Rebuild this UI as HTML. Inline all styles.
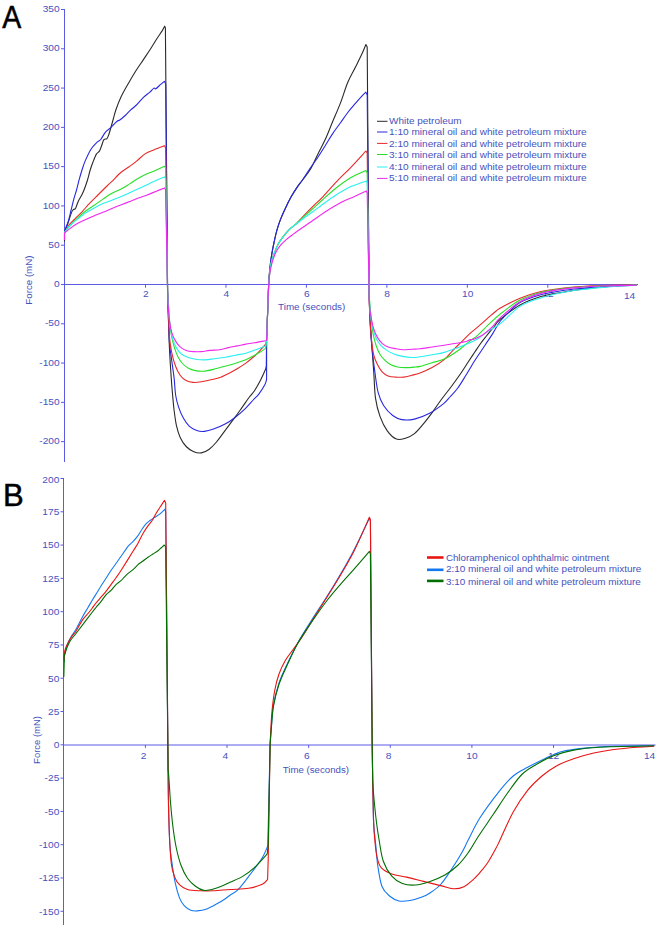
<!DOCTYPE html>
<html><head><meta charset="utf-8"><style>
html,body{margin:0;padding:0;background:#fff;width:660px;height:928px;overflow:hidden}
svg{display:block}
.t{font-family:"Liberation Sans",sans-serif;font-size:9.2px;fill:#4652bc}
.big{font-family:"Liberation Sans",sans-serif;font-size:31px;fill:#000;stroke:#000;stroke-width:0.5px}
.curves path{fill:none;stroke-width:1.1;stroke-linejoin:round}

</style></head><body>
<svg width="660" height="928" viewBox="0 0 660 928">
<text transform="translate(2.2,27.6) scale(0.92,1)" class="big">A</text>
<text x="2.9" y="505.7" class="big">B</text>
<line x1="64.5" y1="9" x2="64.5" y2="462" stroke="#5a5ae6"/>
<line x1="64" y1="284.5" x2="638" y2="284.5" stroke="#5a5ae6"/>
<line x1="61" y1="9.50" x2="64" y2="9.50" stroke="#5a5ae6"/>
<text transform="translate(59.60,12.10) scale(1.060,1)" text-anchor="end" class="t" style="font-size:9.6px">350</text>
<line x1="61" y1="48.79" x2="64" y2="48.79" stroke="#5a5ae6"/>
<text transform="translate(59.60,51.39) scale(1.060,1)" text-anchor="end" class="t" style="font-size:9.6px">300</text>
<line x1="61" y1="88.07" x2="64" y2="88.07" stroke="#5a5ae6"/>
<text transform="translate(59.60,90.67) scale(1.060,1)" text-anchor="end" class="t" style="font-size:9.6px">250</text>
<line x1="61" y1="127.36" x2="64" y2="127.36" stroke="#5a5ae6"/>
<text transform="translate(59.60,129.96) scale(1.060,1)" text-anchor="end" class="t" style="font-size:9.6px">200</text>
<line x1="61" y1="166.64" x2="64" y2="166.64" stroke="#5a5ae6"/>
<text transform="translate(59.60,169.24) scale(1.060,1)" text-anchor="end" class="t" style="font-size:9.6px">150</text>
<line x1="61" y1="205.93" x2="64" y2="205.93" stroke="#5a5ae6"/>
<text transform="translate(59.60,208.53) scale(1.060,1)" text-anchor="end" class="t" style="font-size:9.6px">100</text>
<line x1="61" y1="245.21" x2="64" y2="245.21" stroke="#5a5ae6"/>
<text transform="translate(59.60,247.81) scale(1.060,1)" text-anchor="end" class="t" style="font-size:9.6px">50</text>
<line x1="61" y1="284.50" x2="64" y2="284.50" stroke="#5a5ae6"/>
<text transform="translate(59.60,287.10) scale(1.060,1)" text-anchor="end" class="t" style="font-size:9.6px">0</text>
<line x1="61" y1="323.79" x2="64" y2="323.79" stroke="#5a5ae6"/>
<text transform="translate(59.60,326.39) scale(1.060,1)" text-anchor="end" class="t" style="font-size:9.6px">-50</text>
<line x1="61" y1="363.07" x2="64" y2="363.07" stroke="#5a5ae6"/>
<text transform="translate(59.60,365.67) scale(1.060,1)" text-anchor="end" class="t" style="font-size:9.6px">-100</text>
<line x1="61" y1="402.36" x2="64" y2="402.36" stroke="#5a5ae6"/>
<text transform="translate(59.60,404.96) scale(1.060,1)" text-anchor="end" class="t" style="font-size:9.6px">-150</text>
<line x1="61" y1="441.64" x2="64" y2="441.64" stroke="#5a5ae6"/>
<text transform="translate(59.60,444.24) scale(1.060,1)" text-anchor="end" class="t" style="font-size:9.6px">-200</text>
<line x1="145.50" y1="284.5" x2="145.50" y2="287.7" stroke="#5a5ae6"/>
<text transform="translate(145.80,297.10) scale(1.060,1)" text-anchor="middle" class="t" style="font-size:9.6px">2</text>
<line x1="225.96" y1="284.5" x2="225.96" y2="287.7" stroke="#5a5ae6"/>
<text transform="translate(226.26,297.10) scale(1.060,1)" text-anchor="middle" class="t" style="font-size:9.6px">4</text>
<line x1="306.42" y1="284.5" x2="306.42" y2="287.7" stroke="#5a5ae6"/>
<text transform="translate(306.72,297.10) scale(1.060,1)" text-anchor="middle" class="t" style="font-size:9.6px">6</text>
<line x1="386.88" y1="284.5" x2="386.88" y2="287.7" stroke="#5a5ae6"/>
<text transform="translate(387.18,297.10) scale(1.060,1)" text-anchor="middle" class="t" style="font-size:9.6px">8</text>
<line x1="467.34" y1="284.5" x2="467.34" y2="287.7" stroke="#5a5ae6"/>
<text transform="translate(467.64,297.10) scale(1.060,1)" text-anchor="middle" class="t" style="font-size:9.6px">10</text>
<line x1="547.80" y1="284.5" x2="547.80" y2="287.7" stroke="#5a5ae6"/>
<text transform="translate(548.10,297.10) scale(1.060,1)" text-anchor="middle" class="t" style="font-size:9.6px">12</text>
<text transform="translate(635.20,299.00) scale(1.060,1)" text-anchor="end" class="t" style="font-size:9.6px">14</text>
<line x1="63.5" y1="478" x2="63.5" y2="925" stroke="#5a5ae6"/>
<line x1="63" y1="745" x2="655.5" y2="745" stroke="#5a5ae6"/>
<line x1="60.5" y1="478.50" x2="63" y2="478.50" stroke="#5a5ae6"/>
<text transform="translate(59.30,483.30) scale(1.060,1)" text-anchor="end" class="t" style="font-size:9.6px">200</text>
<line x1="60.5" y1="511.79" x2="63" y2="511.79" stroke="#5a5ae6"/>
<text transform="translate(59.30,515.09) scale(1.060,1)" text-anchor="end" class="t" style="font-size:9.6px">175</text>
<line x1="60.5" y1="545.08" x2="63" y2="545.08" stroke="#5a5ae6"/>
<text transform="translate(59.30,548.38) scale(1.060,1)" text-anchor="end" class="t" style="font-size:9.6px">150</text>
<line x1="60.5" y1="578.37" x2="63" y2="578.37" stroke="#5a5ae6"/>
<text transform="translate(59.30,581.67) scale(1.060,1)" text-anchor="end" class="t" style="font-size:9.6px">125</text>
<line x1="60.5" y1="611.66" x2="63" y2="611.66" stroke="#5a5ae6"/>
<text transform="translate(59.30,614.96) scale(1.060,1)" text-anchor="end" class="t" style="font-size:9.6px">100</text>
<line x1="60.5" y1="644.95" x2="63" y2="644.95" stroke="#5a5ae6"/>
<text transform="translate(59.30,648.25) scale(1.060,1)" text-anchor="end" class="t" style="font-size:9.6px">75</text>
<line x1="60.5" y1="678.24" x2="63" y2="678.24" stroke="#5a5ae6"/>
<text transform="translate(59.30,681.54) scale(1.060,1)" text-anchor="end" class="t" style="font-size:9.6px">50</text>
<line x1="60.5" y1="711.53" x2="63" y2="711.53" stroke="#5a5ae6"/>
<text transform="translate(59.30,714.83) scale(1.060,1)" text-anchor="end" class="t" style="font-size:9.6px">25</text>
<line x1="60.5" y1="744.82" x2="63" y2="744.82" stroke="#5a5ae6"/>
<text transform="translate(59.30,748.12) scale(1.060,1)" text-anchor="end" class="t" style="font-size:9.6px">0</text>
<line x1="60.5" y1="778.11" x2="63" y2="778.11" stroke="#5a5ae6"/>
<text transform="translate(59.30,781.41) scale(1.060,1)" text-anchor="end" class="t" style="font-size:9.6px">-25</text>
<line x1="60.5" y1="811.40" x2="63" y2="811.40" stroke="#5a5ae6"/>
<text transform="translate(59.30,814.70) scale(1.060,1)" text-anchor="end" class="t" style="font-size:9.6px">-50</text>
<line x1="60.5" y1="844.69" x2="63" y2="844.69" stroke="#5a5ae6"/>
<text transform="translate(59.30,847.99) scale(1.060,1)" text-anchor="end" class="t" style="font-size:9.6px">-100</text>
<line x1="60.5" y1="877.98" x2="63" y2="877.98" stroke="#5a5ae6"/>
<text transform="translate(59.30,881.28) scale(1.060,1)" text-anchor="end" class="t" style="font-size:9.6px">-125</text>
<line x1="60.5" y1="911.27" x2="63" y2="911.27" stroke="#5a5ae6"/>
<text transform="translate(59.30,914.57) scale(1.060,1)" text-anchor="end" class="t" style="font-size:9.6px">-150</text>
<line x1="145.42" y1="745" x2="145.42" y2="747.9" stroke="#5a5ae6"/>
<text transform="translate(143.62,758.70) scale(1.060,1)" text-anchor="middle" class="t" style="font-size:9.6px">2</text>
<line x1="227.04" y1="745" x2="227.04" y2="747.9" stroke="#5a5ae6"/>
<text transform="translate(225.24,758.70) scale(1.060,1)" text-anchor="middle" class="t" style="font-size:9.6px">4</text>
<line x1="308.66" y1="745" x2="308.66" y2="747.9" stroke="#5a5ae6"/>
<text transform="translate(306.86,758.70) scale(1.060,1)" text-anchor="middle" class="t" style="font-size:9.6px">6</text>
<line x1="390.28" y1="745" x2="390.28" y2="747.9" stroke="#5a5ae6"/>
<text transform="translate(388.48,758.70) scale(1.060,1)" text-anchor="middle" class="t" style="font-size:9.6px">8</text>
<line x1="471.90" y1="745" x2="471.90" y2="747.9" stroke="#5a5ae6"/>
<text transform="translate(471.90,758.70) scale(1.060,1)" text-anchor="middle" class="t" style="font-size:9.6px">10</text>
<line x1="553.52" y1="745" x2="553.52" y2="747.9" stroke="#5a5ae6"/>
<text transform="translate(553.52,758.70) scale(1.060,1)" text-anchor="middle" class="t" style="font-size:9.6px">12</text>
<text transform="translate(655.20,759.00) scale(1.060,1)" text-anchor="end" class="t" style="font-size:9.6px">14</text>
<text x="0.0" y="0.0" text-anchor="middle" textLength="49.2" lengthAdjust="spacingAndGlyphs" class="t" transform="translate(32.4,280.1) rotate(-90)">Force (mN)</text>
<text x="0.0" y="0.0" text-anchor="middle" textLength="47.8" lengthAdjust="spacingAndGlyphs" class="t" transform="translate(40.2,740) rotate(-90)">Force (mN)</text>
<text x="278.1" y="310.1" textLength="67.2" lengthAdjust="spacingAndGlyphs" class="t">Time (seconds)</text>
<text x="282.7" y="772.8" textLength="66.3" lengthAdjust="spacingAndGlyphs" class="t">Time (seconds)</text>
<g class="curves">
<path d="M64.50,241.50L64.50,234.00C64.67,233.17 65.00,230.58 65.50,229.00C66.00,227.42 66.57,227.07 67.50,224.50C68.43,221.93 70.20,216.02 71.10,213.60C72.00,211.18 72.15,210.90 72.90,210.00C73.65,209.10 74.68,209.72 75.60,208.20C76.52,206.68 77.33,203.18 78.40,200.90C79.47,198.62 80.95,196.62 82.00,194.50C83.05,192.38 83.78,190.62 84.70,188.20C85.62,185.78 86.58,183.03 87.50,180.00C88.42,176.97 89.28,173.00 90.20,170.00C91.12,167.00 91.97,164.65 93.00,162.00C94.03,159.35 95.33,155.92 96.40,154.10C97.47,152.28 98.55,152.45 99.40,151.10C100.25,149.75 100.75,147.90 101.50,146.00C102.25,144.10 102.98,140.93 103.90,139.70C104.82,138.47 106.15,139.55 107.00,138.60C107.85,137.65 108.30,136.02 109.00,134.00C109.70,131.98 110.43,129.18 111.20,126.50C111.97,123.82 112.78,120.78 113.60,117.90C114.42,115.02 114.85,112.72 116.10,109.20C117.35,105.68 119.03,101.13 121.10,96.80C123.17,92.47 126.03,87.53 128.50,83.20C130.97,78.87 133.42,74.73 135.90,70.80C138.38,66.87 140.92,63.32 143.40,59.60C145.88,55.88 148.53,52.02 150.80,48.50C153.07,44.98 155.13,41.40 157.00,38.50C158.87,35.60 160.72,33.15 162.00,31.10C163.28,29.05 164.25,27.02 164.70,26.20L165.40,28.00L167.60,292.00C167.72,295.83 167.98,305.47 168.30,315.00C168.62,324.53 169.00,338.55 169.50,349.20C170.00,359.85 170.78,371.27 171.30,378.90C171.82,386.53 172.13,389.78 172.60,395.00C173.07,400.22 173.47,405.15 174.10,410.20C174.73,415.25 175.38,420.77 176.40,425.30C177.42,429.83 178.57,433.87 180.20,437.40C181.83,440.93 183.93,444.10 186.20,446.50C188.47,448.90 191.27,450.73 193.80,451.80C196.33,452.87 198.88,453.28 201.40,452.90C203.92,452.52 206.38,451.32 208.90,449.50C211.42,447.68 213.72,445.28 216.50,442.00C219.28,438.72 222.57,433.85 225.60,429.80C228.63,425.75 231.92,421.48 234.70,417.70C237.48,413.92 239.78,410.63 242.30,407.10C244.82,403.57 247.77,399.23 249.80,396.50C251.83,393.77 252.72,393.40 254.50,390.70C256.28,388.00 258.63,383.90 260.50,380.30C262.37,376.70 264.83,370.97 265.70,369.10L266.30,366.00L266.60,340.00L268.60,286.00C268.72,284.13 268.98,278.63 269.30,274.80C269.62,270.97 270.00,266.95 270.50,263.00C271.00,259.05 271.60,255.05 272.30,251.10C273.00,247.15 273.92,242.85 274.70,239.30C275.48,235.75 276.02,233.17 277.00,229.80C277.98,226.43 279.22,222.67 280.60,219.10C281.98,215.53 283.52,212.15 285.30,208.40C287.08,204.65 289.32,200.15 291.30,196.60C293.28,193.05 295.33,189.87 297.20,187.10C299.07,184.33 300.35,182.88 302.50,180.00C304.65,177.12 307.58,174.02 310.10,169.80C312.62,165.58 315.08,159.73 317.60,154.70C320.12,149.67 322.68,145.13 325.20,139.60C327.72,134.07 330.18,127.53 332.70,121.50C335.22,115.47 337.78,109.93 340.30,103.40C342.82,96.87 345.28,88.33 347.80,82.30C350.32,76.27 353.13,71.73 355.40,67.20C357.67,62.67 359.65,58.88 361.40,55.10C363.15,51.32 365.15,46.27 365.90,44.50L367.20,47.00L369.10,292.00C369.23,295.83 369.40,305.47 369.90,315.00C370.40,324.53 371.45,339.55 372.10,349.20C372.75,358.85 373.23,364.73 373.80,372.90C374.37,381.07 374.47,390.95 375.50,398.20C376.53,405.45 378.03,410.95 380.00,416.40C381.97,421.85 384.57,427.12 387.30,430.90C390.03,434.68 393.37,437.88 396.40,439.10C399.43,440.32 402.48,439.12 405.50,438.20C408.52,437.28 411.48,436.03 414.50,433.60C417.52,431.17 420.57,427.23 423.60,423.60C426.63,419.97 429.80,415.73 432.70,411.80C435.60,407.87 437.95,404.13 441.00,400.00C444.05,395.87 447.83,391.25 451.00,387.00C454.17,382.75 457.08,378.75 460.00,374.50C462.92,370.25 466.08,365.17 468.50,361.50C470.92,357.83 472.48,355.50 474.50,352.50C476.52,349.50 478.68,346.17 480.60,343.50C482.52,340.83 484.38,338.55 486.00,336.50C487.62,334.45 488.80,333.03 490.30,331.20C491.80,329.37 493.38,327.45 495.00,325.50C496.62,323.55 495.83,322.92 500.00,319.50C504.17,316.08 513.33,308.78 520.00,305.00C526.67,301.22 533.33,298.85 540.00,296.80C546.67,294.75 553.33,293.92 560.00,292.70C566.67,291.48 573.33,290.42 580.00,289.50C586.67,288.58 593.33,287.82 600.00,287.20C606.67,286.58 613.83,286.13 620.00,285.80C626.17,285.47 634.17,285.30 637.00,285.20" stroke="#2a2a2a"/>
<path d="M64.40,232.50C64.57,231.92 64.73,230.93 65.40,229.00C66.07,227.07 67.45,224.07 68.40,220.90C69.35,217.73 70.20,213.63 71.10,210.00C72.00,206.37 72.90,202.43 73.80,199.10C74.70,195.77 75.58,193.33 76.50,190.00C77.42,186.67 78.38,182.43 79.30,179.10C80.22,175.77 81.02,173.03 82.00,170.00C82.98,166.97 83.70,164.37 85.20,160.90C86.70,157.43 89.05,152.28 91.00,149.20C92.95,146.12 95.28,144.02 96.90,142.40C98.52,140.78 99.27,141.22 100.70,139.50C102.13,137.78 103.82,134.08 105.50,132.10C107.18,130.12 108.92,129.37 110.80,127.60C112.68,125.83 115.30,122.77 116.80,121.50C118.30,120.23 118.40,121.00 119.80,120.00C121.20,119.00 123.42,117.13 125.20,115.50C126.98,113.87 128.72,111.87 130.50,110.20C132.28,108.53 133.75,107.63 135.90,105.50C138.05,103.37 141.12,99.58 143.40,97.40C145.68,95.22 147.85,93.95 149.60,92.40C151.35,90.85 152.87,88.72 153.90,88.10C154.93,87.48 154.67,89.32 155.80,88.70C156.93,88.08 159.27,85.63 160.70,84.40C162.13,83.17 163.78,81.82 164.40,81.30L165.70,84.00L167.60,292.00C167.75,296.67 168.18,311.45 168.50,320.00C168.82,328.55 168.95,336.45 169.50,343.30C170.05,350.15 171.02,355.17 171.80,361.10C172.58,367.03 173.57,373.25 174.20,378.90C174.83,384.55 174.87,390.30 175.60,395.00C176.33,399.70 177.33,403.32 178.60,407.10C179.87,410.88 181.43,414.53 183.20,417.70C184.97,420.87 186.93,423.95 189.20,426.10C191.47,428.25 194.27,429.72 196.80,430.60C199.33,431.48 201.62,431.65 204.40,431.40C207.18,431.15 209.97,430.37 213.50,429.10C217.03,427.83 222.07,425.70 225.60,423.80C229.13,421.90 231.42,420.23 234.70,417.70C237.98,415.17 242.22,411.55 245.30,408.60C248.38,405.65 250.95,402.42 253.20,400.00C255.45,397.58 256.87,396.65 258.80,394.10C260.73,391.55 263.50,387.13 264.80,384.70C266.10,382.27 266.30,380.37 266.60,379.50L266.60,340.00L268.60,286.00C268.72,284.13 268.98,278.63 269.30,274.80C269.62,270.97 270.00,266.95 270.50,263.00C271.00,259.05 271.60,255.05 272.30,251.10C273.00,247.15 273.92,242.85 274.70,239.30C275.48,235.75 276.02,233.17 277.00,229.80C277.98,226.43 279.22,222.67 280.60,219.10C281.98,215.53 283.52,212.15 285.30,208.40C287.08,204.65 289.32,200.15 291.30,196.60C293.28,193.05 295.33,189.87 297.20,187.10C299.07,184.33 300.35,183.13 302.50,180.00C304.65,176.87 307.58,172.02 310.10,168.30C312.62,164.58 315.08,161.47 317.60,157.70C320.12,153.93 322.68,149.72 325.20,145.70C327.72,141.68 330.18,137.38 332.70,133.60C335.22,129.82 337.78,126.52 340.30,123.00C342.82,119.48 345.28,115.77 347.80,112.50C350.32,109.23 353.13,106.05 355.40,103.40C357.67,100.75 359.65,98.48 361.40,96.60C363.15,94.72 365.15,92.85 365.90,92.10L367.20,95.00L369.10,292.00C369.25,296.67 369.60,311.45 370.00,320.00C370.40,328.55 370.67,334.48 371.50,343.30C372.33,352.12 373.88,364.67 375.00,372.90C376.12,381.13 376.77,387.27 378.20,392.70C379.63,398.13 381.18,401.70 383.60,405.50C386.02,409.30 389.67,413.15 392.70,415.50C395.73,417.85 398.17,419.00 401.80,419.60C405.43,420.20 409.95,420.10 414.50,419.10C419.05,418.10 424.25,416.18 429.10,413.60C433.95,411.02 440.12,406.37 443.60,403.60C447.08,400.83 447.67,399.55 450.00,397.00C452.33,394.45 454.95,391.92 457.60,388.30C460.25,384.68 463.08,379.85 465.90,375.30C468.72,370.75 472.23,364.63 474.50,361.00C476.77,357.37 477.67,356.25 479.50,353.50C481.33,350.75 483.30,347.82 485.50,344.50C487.70,341.18 490.28,337.43 492.70,333.60C495.12,329.77 497.12,325.27 500.00,321.50C502.88,317.73 506.67,314.17 510.00,311.00C513.33,307.83 515.00,305.17 520.00,302.50C525.00,299.83 533.33,296.92 540.00,295.00C546.67,293.08 553.33,292.08 560.00,291.00C566.67,289.92 573.33,289.17 580.00,288.50C586.67,287.83 593.33,287.47 600.00,287.00C606.67,286.53 613.83,286.00 620.00,285.70C626.17,285.40 634.17,285.28 637.00,285.20" stroke="#2828e0"/>
<path d="M64.40,232.50C64.67,232.12 65.18,231.53 66.00,230.20C66.82,228.87 67.85,226.35 69.30,224.50C70.75,222.65 72.58,221.22 74.70,219.10C76.82,216.98 79.57,214.38 82.00,211.80C84.43,209.22 86.57,206.48 89.30,203.60C92.03,200.72 95.37,197.52 98.40,194.50C101.43,191.48 105.23,187.70 107.50,185.50C109.77,183.30 109.78,183.47 112.00,181.30C114.22,179.13 117.87,174.98 120.80,172.50C123.73,170.02 126.97,168.30 129.60,166.40C132.23,164.50 133.97,163.23 136.60,161.10C139.23,158.97 142.47,155.50 145.40,153.60C148.33,151.70 150.98,151.02 154.20,149.70C157.42,148.38 162.95,146.37 164.70,145.70L165.60,148.00L167.60,292.00C167.72,294.63 167.98,300.23 168.30,307.80C168.62,315.37 168.92,329.90 169.50,337.40C170.08,344.90 170.82,348.07 171.80,352.80C172.78,357.53 174.02,362.05 175.40,365.80C176.78,369.55 178.32,372.83 180.10,375.30C181.88,377.77 183.92,379.42 186.10,380.60C188.28,381.78 190.63,382.20 193.20,382.40C195.77,382.60 198.73,382.20 201.50,381.80C204.27,381.40 206.85,380.68 209.80,380.00C212.75,379.32 216.07,378.80 219.20,377.70C222.33,376.60 225.60,374.90 228.60,373.40C231.60,371.90 234.32,370.42 237.20,368.70C240.08,366.98 243.30,364.97 245.90,363.10C248.50,361.23 250.65,359.37 252.80,357.50C254.95,355.63 256.65,354.13 258.80,351.90C260.95,349.67 264.55,345.40 265.70,344.10L266.60,340.00L268.60,286.00C268.82,283.55 269.38,275.53 269.90,271.30C270.42,267.07 270.90,263.77 271.70,260.60C272.50,257.43 273.62,255.07 274.70,252.30C275.78,249.53 276.82,246.57 278.20,244.00C279.58,241.43 281.22,239.27 283.00,236.90C284.78,234.53 286.73,231.97 288.90,229.80C291.07,227.63 293.23,226.57 296.00,223.90C298.77,221.23 302.53,216.87 305.50,213.80C308.47,210.73 311.08,208.17 313.80,205.50C316.52,202.83 318.03,201.75 321.80,197.80C325.57,193.85 331.55,186.88 336.40,181.80C341.25,176.72 345.98,172.43 350.90,167.30C355.82,162.17 363.40,153.72 365.90,151.00L367.20,153.00L369.10,292.00C369.20,295.62 369.30,305.73 369.70,313.70C370.10,321.67 370.82,332.88 371.50,339.80C372.18,346.72 372.82,351.07 373.80,355.20C374.78,359.33 376.02,361.83 377.40,364.60C378.78,367.37 380.32,369.92 382.10,371.80C383.88,373.68 385.92,375.02 388.10,375.90C390.28,376.78 392.63,376.90 395.20,377.10C397.77,377.30 400.73,377.40 403.50,377.10C406.27,376.80 409.05,375.98 411.80,375.30C414.55,374.62 416.62,374.28 420.00,373.00C423.38,371.72 428.07,369.82 432.10,367.60C436.13,365.38 440.77,362.53 444.20,359.70C447.63,356.87 449.87,353.53 452.70,350.60C455.53,347.67 458.57,344.73 461.20,342.10C463.83,339.47 465.87,337.22 468.50,334.80C471.13,332.38 473.97,330.22 477.00,327.60C480.03,324.98 483.67,321.73 486.70,319.10C489.73,316.47 492.98,313.62 495.20,311.80C497.42,309.98 495.87,310.47 500.00,308.20C504.13,305.93 513.33,300.93 520.00,298.20C526.67,295.47 533.33,293.42 540.00,291.80C546.67,290.18 553.33,289.37 560.00,288.50C566.67,287.63 573.33,287.10 580.00,286.60C586.67,286.10 590.50,285.77 600.00,285.50C609.50,285.23 630.83,285.08 637.00,285.00" stroke="#e82828"/>
<path d="M64.40,232.50C64.67,232.13 64.88,231.63 66.00,230.30C67.12,228.97 69.18,226.52 71.10,224.50C73.02,222.48 75.23,220.32 77.50,218.20C79.77,216.08 81.98,213.92 84.70,211.80C87.42,209.68 90.77,207.62 93.80,205.50C96.83,203.38 99.87,201.15 102.90,199.10C105.93,197.05 109.02,194.85 112.00,193.20C114.98,191.55 117.87,190.75 120.80,189.20C123.73,187.65 126.67,185.73 129.60,183.90C132.53,182.07 135.48,179.88 138.40,178.20C141.32,176.52 144.18,175.12 147.10,173.80C150.02,172.48 153.00,171.57 155.90,170.30C158.80,169.03 163.07,166.88 164.50,166.20L165.60,168.00L167.60,292.00C167.75,294.17 168.18,300.20 168.50,305.00C168.82,309.80 169.03,315.80 169.50,320.80C169.97,325.80 170.52,330.65 171.30,335.00C172.08,339.35 173.12,343.33 174.20,346.90C175.28,350.47 176.42,353.63 177.80,356.40C179.18,359.17 180.73,361.53 182.50,363.50C184.27,365.47 186.23,367.02 188.40,368.20C190.57,369.38 192.93,370.10 195.50,370.60C198.07,371.10 200.83,371.40 203.80,371.20C206.77,371.00 210.33,370.10 213.30,369.40C216.27,368.70 219.05,367.68 221.60,367.00C224.15,366.32 226.00,366.02 228.60,365.30C231.20,364.58 234.32,363.63 237.20,362.70C240.08,361.77 243.30,360.78 245.90,359.70C248.50,358.62 250.50,357.43 252.80,356.20C255.10,354.97 257.55,353.60 259.70,352.30C261.85,351.00 264.70,349.05 265.70,348.40L266.60,340.00L268.60,286.00C268.82,283.55 269.38,275.53 269.90,271.30C270.42,267.07 270.90,263.77 271.70,260.60C272.50,257.43 273.62,255.07 274.70,252.30C275.78,249.53 276.82,246.57 278.20,244.00C279.58,241.43 281.22,239.27 283.00,236.90C284.78,234.53 286.73,231.97 288.90,229.80C291.07,227.63 293.23,226.33 296.00,223.90C298.77,221.47 302.53,217.88 305.50,215.20C308.47,212.52 311.08,210.25 313.80,207.80C316.52,205.35 318.03,203.83 321.80,200.50C325.57,197.17 331.55,191.63 336.40,187.80C341.25,183.97 345.98,180.40 350.90,177.50C355.82,174.60 363.40,171.58 365.90,170.40L367.20,173.00L369.10,292.00C369.23,294.17 369.50,300.20 369.90,305.00C370.30,309.80 370.93,315.80 371.50,320.80C372.07,325.80 372.52,330.85 373.30,335.00C374.08,339.15 375.12,342.53 376.20,345.70C377.28,348.87 378.42,351.63 379.80,354.00C381.18,356.37 382.73,358.13 384.50,359.90C386.27,361.67 388.23,363.42 390.40,364.60C392.57,365.78 394.93,366.50 397.50,367.00C400.07,367.50 402.83,367.60 405.80,367.60C408.77,367.60 412.93,367.20 415.30,367.00C417.67,366.80 417.20,367.12 420.00,366.40C422.80,365.68 428.07,363.92 432.10,362.70C436.13,361.48 440.15,360.92 444.20,359.10C448.25,357.28 452.35,354.63 456.40,351.80C460.45,348.97 464.87,344.93 468.50,342.10C472.13,339.27 474.97,337.62 478.20,334.80C481.43,331.98 484.27,328.63 487.90,325.20C491.53,321.77 494.65,318.40 500.00,314.20C505.35,310.00 513.33,303.58 520.00,300.00C526.67,296.42 533.33,294.53 540.00,292.70C546.67,290.87 553.33,289.95 560.00,289.00C566.67,288.05 573.33,287.55 580.00,287.00C586.67,286.45 590.50,286.02 600.00,285.70C609.50,285.38 630.83,285.20 637.00,285.10" stroke="#28e028"/>
<path d="M64.40,232.50C64.67,232.13 64.88,231.63 66.00,230.30C67.12,228.97 69.18,226.37 71.10,224.50C73.02,222.63 75.23,220.92 77.50,219.10C79.77,217.28 81.98,215.42 84.70,213.60C87.42,211.78 90.77,209.87 93.80,208.20C96.83,206.53 99.87,204.93 102.90,203.60C105.93,202.27 109.02,201.35 112.00,200.20C114.98,199.05 117.87,197.95 120.80,196.70C123.73,195.45 126.67,194.02 129.60,192.70C132.53,191.38 135.48,190.12 138.40,188.80C141.32,187.48 144.18,186.20 147.10,184.80C150.02,183.40 153.00,181.72 155.90,180.40C158.80,179.08 163.07,177.48 164.50,176.90L165.60,179.00L167.60,292.00C167.82,295.62 168.38,307.52 168.90,313.70C169.42,319.88 170.02,324.75 170.70,329.10C171.38,333.45 172.02,336.63 173.00,339.80C173.98,342.97 175.22,345.73 176.60,348.10C177.98,350.47 179.33,352.43 181.30,354.00C183.27,355.57 186.03,356.62 188.40,357.50C190.77,358.38 192.73,358.90 195.50,359.30C198.27,359.70 201.83,360.00 205.00,359.90C208.17,359.80 211.33,359.10 214.50,358.70C217.67,358.30 221.65,357.85 224.00,357.50C226.35,357.15 226.40,357.03 228.60,356.60C230.80,356.17 234.32,355.47 237.20,354.90C240.08,354.33 243.02,353.98 245.90,353.20C248.78,352.42 251.92,351.13 254.50,350.20C257.08,349.27 259.53,348.32 261.40,347.60C263.27,346.88 264.98,346.18 265.70,345.90L266.60,340.00L268.60,286.00C268.82,283.55 269.38,275.53 269.90,271.30C270.42,267.07 270.90,263.77 271.70,260.60C272.50,257.43 273.62,255.07 274.70,252.30C275.78,249.53 276.82,246.57 278.20,244.00C279.58,241.43 281.22,239.27 283.00,236.90C284.78,234.53 286.73,231.92 288.90,229.80C291.07,227.68 293.43,226.20 296.00,224.20C298.57,222.20 301.33,220.00 304.30,217.80C307.27,215.60 310.88,213.13 313.80,211.00C316.72,208.87 318.03,207.70 321.80,205.00C325.57,202.30 331.55,197.87 336.40,194.80C341.25,191.73 345.93,188.92 350.90,186.60C355.87,184.28 363.65,181.85 366.20,180.90L367.20,183.00L369.10,292.00C369.30,295.62 369.70,307.72 370.30,313.70C370.90,319.68 371.72,323.75 372.70,327.90C373.68,332.05 374.82,335.63 376.20,338.60C377.58,341.57 379.22,343.73 381.00,345.70C382.78,347.67 384.73,349.02 386.90,350.40C389.07,351.78 391.43,353.00 394.00,354.00C396.57,355.00 399.33,355.82 402.30,356.40C405.27,356.98 408.85,357.43 411.80,357.50C414.75,357.57 416.62,357.25 420.00,356.80C423.38,356.35 428.07,355.53 432.10,354.80C436.13,354.07 440.15,353.50 444.20,352.40C448.25,351.30 452.35,349.72 456.40,348.20C460.45,346.68 464.87,344.92 468.50,343.30C472.13,341.68 474.97,340.52 478.20,338.50C481.43,336.48 484.27,333.63 487.90,331.20C491.53,328.77 494.65,328.03 500.00,323.90C505.35,319.77 513.33,310.68 520.00,306.40C526.67,302.12 533.33,300.43 540.00,298.20C546.67,295.97 553.33,294.40 560.00,293.00C566.67,291.60 573.33,290.70 580.00,289.80C586.67,288.90 593.33,288.23 600.00,287.60C606.67,286.97 613.83,286.38 620.00,286.00C626.17,285.62 634.17,285.42 637.00,285.30" stroke="#28f0f0"/>
<path d="M64.50,240.00L64.50,233.00C64.67,232.83 64.70,232.65 65.50,232.00C66.30,231.35 67.62,230.35 69.30,229.10C70.98,227.85 73.03,226.02 75.60,224.50C78.17,222.98 81.67,221.43 84.70,220.00C87.73,218.57 90.77,217.18 93.80,215.90C96.83,214.62 99.87,213.55 102.90,212.30C105.93,211.05 109.02,209.62 112.00,208.40C114.98,207.18 117.87,206.15 120.80,205.00C123.73,203.85 126.67,202.67 129.60,201.50C132.53,200.33 135.48,199.10 138.40,198.00C141.32,196.90 144.18,196.00 147.10,194.90C150.02,193.80 153.00,192.57 155.90,191.40C158.80,190.23 163.07,188.48 164.50,187.90L165.60,190.00L167.60,292.00C167.72,294.63 167.98,303.00 168.30,307.80C168.62,312.60 168.92,316.65 169.50,320.80C170.08,324.95 170.82,329.35 171.80,332.70C172.78,336.05 174.02,338.53 175.40,340.90C176.78,343.27 178.32,345.32 180.10,346.90C181.88,348.48 183.92,349.62 186.10,350.40C188.28,351.18 190.63,351.40 193.20,351.60C195.77,351.80 198.73,351.80 201.50,351.60C204.27,351.40 206.72,350.72 209.80,350.40C212.88,350.08 216.87,350.17 220.00,349.70C223.13,349.23 225.73,348.23 228.60,347.60C231.47,346.97 234.32,346.48 237.20,345.90C240.08,345.32 243.02,344.62 245.90,344.10C248.78,343.58 251.20,343.37 254.50,342.80C257.80,342.23 263.83,341.05 265.70,340.70L266.60,340.00L268.60,286.00C268.82,283.75 269.28,276.53 269.90,272.50C270.52,268.47 271.30,265.17 272.30,261.80C273.30,258.43 274.52,255.07 275.90,252.30C277.28,249.53 278.83,247.37 280.60,245.20C282.37,243.03 284.33,241.18 286.50,239.30C288.67,237.42 291.03,235.78 293.60,233.90C296.17,232.02 298.93,230.07 301.90,228.00C304.87,225.93 307.55,224.17 311.40,221.50C315.25,218.83 320.23,215.08 325.00,212.00C329.77,208.92 335.08,205.60 340.00,203.00C344.92,200.40 350.13,198.42 354.50,196.40C358.87,194.38 364.25,191.82 366.20,190.90L367.20,193.00L369.10,292.00C369.20,294.63 369.30,303.20 369.70,307.80C370.10,312.40 370.82,316.05 371.50,319.60C372.18,323.15 372.82,326.13 373.80,329.10C374.78,332.07 376.02,335.03 377.40,337.40C378.78,339.77 380.32,341.72 382.10,343.30C383.88,344.88 385.92,346.02 388.10,346.90C390.28,347.78 392.63,348.12 395.20,348.60C397.77,349.08 400.73,349.70 403.50,349.80C406.27,349.90 409.05,349.37 411.80,349.20C414.55,349.03 416.62,349.17 420.00,348.80C423.38,348.43 428.07,347.60 432.10,347.00C436.13,346.40 440.15,345.82 444.20,345.20C448.25,344.58 452.75,343.92 456.40,343.30C460.05,342.68 463.88,342.07 466.10,341.50C468.32,340.93 468.30,340.32 469.70,339.90C471.10,339.48 472.28,339.85 474.50,339.00C476.72,338.15 479.97,336.90 483.00,334.80C486.03,332.70 489.87,329.22 492.70,326.40C495.53,323.58 495.45,322.00 500.00,317.90C504.55,313.80 513.33,305.85 520.00,301.80C526.67,297.75 533.33,295.65 540.00,293.60C546.67,291.55 553.33,290.55 560.00,289.50C566.67,288.45 573.33,287.88 580.00,287.30C586.67,286.72 590.50,286.35 600.00,286.00C609.50,285.65 630.83,285.33 637.00,285.20" stroke="#f028f0"/>
<path d="M64.20,662.00C64.23,661.00 63.85,659.00 64.40,656.00C64.95,653.00 66.40,647.17 67.50,644.00C68.60,640.83 69.58,639.45 71.00,637.00C72.42,634.55 74.07,632.68 76.00,629.30C77.93,625.92 80.60,620.33 82.60,616.70C84.60,613.07 86.27,610.45 88.00,607.50C89.73,604.55 91.38,601.67 93.00,599.00C94.62,596.33 96.37,593.67 97.70,591.50C99.03,589.33 99.62,588.20 101.00,586.00C102.38,583.80 104.33,580.88 106.00,578.30C107.67,575.72 108.60,574.00 111.00,570.50C113.40,567.00 117.57,561.32 120.40,557.30C123.23,553.28 125.90,549.02 128.00,546.40C130.10,543.78 131.33,543.40 133.00,541.60C134.67,539.80 136.50,537.67 138.00,535.60C139.50,533.53 140.67,531.17 142.00,529.20C143.33,527.23 144.67,525.25 146.00,523.80C147.33,522.35 148.62,521.53 150.00,520.50C151.38,519.47 152.63,518.70 154.30,517.60C155.97,516.50 158.22,515.30 160.00,513.90C161.78,512.50 164.17,509.98 165.00,509.20L165.70,512.00L168.10,770.00L168.50,800.00C168.70,807.12 169.10,832.08 169.70,842.70C170.30,853.32 171.17,856.97 172.10,863.70C173.03,870.43 174.08,877.45 175.30,883.10C176.52,888.75 177.92,893.83 179.40,897.60C180.88,901.37 182.32,903.60 184.20,905.70C186.08,907.80 188.53,909.33 190.70,910.20C192.87,911.07 194.52,911.12 197.20,910.90C199.88,910.68 203.58,910.03 206.80,908.90C210.02,907.77 213.53,905.72 216.50,904.10C219.47,902.48 222.35,900.68 224.60,899.20C226.85,897.72 227.67,896.87 230.00,895.20C232.33,893.53 234.87,893.15 238.60,889.20C242.33,885.25 248.45,876.75 252.40,871.50C256.35,866.25 259.73,861.97 262.30,857.70C264.87,853.43 266.88,847.87 267.80,845.90L270.10,745.00C270.33,741.67 270.93,731.68 271.50,725.00C272.07,718.32 272.27,711.85 273.50,704.90C274.73,697.95 276.65,690.05 278.90,683.30C281.15,676.55 283.87,671.13 287.00,664.40C290.13,657.67 293.67,650.17 297.70,642.90C301.73,635.63 306.25,628.65 311.20,620.80C316.15,612.95 322.45,603.68 327.40,595.80C332.35,587.92 336.42,581.22 340.90,573.50C345.38,565.78 349.55,558.72 354.30,549.50C359.05,540.28 366.88,523.42 369.40,518.20L370.40,521.00L372.20,745.00L372.70,780.00C372.85,786.97 373.07,810.73 373.60,821.80C374.13,832.87 375.20,839.03 375.90,846.40C376.60,853.77 376.78,859.32 377.80,866.00C378.82,872.68 380.05,881.50 382.00,886.50C383.95,891.50 386.67,893.58 389.50,896.00C392.33,898.42 395.58,900.25 399.00,901.00C402.42,901.75 406.17,901.17 410.00,900.50C413.83,899.83 418.67,898.25 422.00,897.00C425.33,895.75 426.90,895.08 430.00,893.00C433.10,890.92 437.07,888.38 440.60,884.50C444.13,880.62 447.67,875.00 451.20,869.70C454.73,864.40 458.97,857.65 461.80,852.70C464.63,847.75 465.17,845.82 468.20,840.00C471.23,834.18 474.90,825.83 480.00,817.80C485.10,809.77 493.27,798.77 498.80,791.80C504.33,784.83 508.40,780.08 513.20,776.00C518.00,771.92 522.33,770.18 527.60,767.30C532.87,764.42 539.05,761.33 544.80,758.70C550.55,756.07 555.38,753.27 562.10,751.50C568.82,749.73 576.47,748.97 585.10,748.10C593.73,747.23 602.38,746.68 613.90,746.30C625.42,745.92 647.48,745.88 654.20,745.80" stroke="#1478f0"/>
<path d="M64.20,660.00C64.22,659.33 64.17,657.67 64.30,656.00C64.43,654.33 64.47,652.00 65.00,650.00C65.53,648.00 66.50,646.08 67.50,644.00C68.50,641.92 69.58,639.63 71.00,637.50C72.42,635.37 74.07,634.13 76.00,631.20C77.93,628.27 80.60,622.85 82.60,619.90C84.60,616.95 86.43,615.40 88.00,613.50C89.57,611.60 90.67,610.25 92.00,608.50C93.33,606.75 94.50,604.88 96.00,603.00C97.50,601.12 99.33,599.13 101.00,597.20C102.67,595.27 104.33,593.50 106.00,591.40C107.67,589.30 109.33,586.87 111.00,584.60C112.67,582.33 114.33,580.15 116.00,577.80C117.67,575.45 118.17,574.92 121.00,570.50C123.83,566.08 130.17,555.85 133.00,551.30C135.83,546.75 136.33,546.17 138.00,543.20C139.67,540.23 141.33,536.38 143.00,533.50C144.67,530.62 146.42,528.15 148.00,525.90C149.58,523.65 151.17,522.07 152.50,520.00C153.83,517.93 154.52,515.98 156.00,513.50C157.48,511.02 159.98,507.28 161.40,505.10C162.82,502.92 163.98,501.18 164.50,500.40L165.70,503.00L168.10,770.00C168.15,775.38 168.18,791.53 168.40,802.30C168.62,813.07 168.92,824.37 169.40,834.60C169.88,844.83 170.45,856.70 171.30,863.70C172.15,870.70 173.15,873.10 174.50,876.60C175.85,880.10 177.23,882.55 179.40,884.70C181.57,886.85 184.00,888.48 187.50,889.50C191.00,890.52 196.10,890.58 200.40,890.80C204.70,891.02 208.37,891.02 213.30,890.80C218.23,890.58 224.13,889.92 230.00,889.50C235.87,889.08 243.12,889.17 248.50,888.30C253.88,887.43 259.12,885.78 262.30,884.30C265.48,882.82 266.72,880.22 267.60,879.40L268.20,860.00L270.10,745.00C270.22,742.50 270.47,735.80 270.80,730.00C271.13,724.20 271.43,716.87 272.10,710.20C272.77,703.53 273.65,696.03 274.80,690.00C275.95,683.97 277.30,678.83 279.00,674.00C280.70,669.17 282.83,664.83 285.00,661.00C287.17,657.17 289.50,654.50 292.00,651.00C294.50,647.50 297.33,643.92 300.00,640.00C302.67,636.08 305.33,631.75 308.00,627.50C310.67,623.25 312.77,619.67 316.00,614.50C319.23,609.33 323.25,603.17 327.40,596.50C331.55,589.83 336.42,582.17 340.90,574.50C345.38,566.83 349.55,560.03 354.30,550.50C359.05,540.97 366.88,522.83 369.40,517.30L370.40,520.00L372.20,745.00L372.70,780.00C372.85,786.97 373.25,811.80 373.60,821.80C373.95,831.80 374.23,834.13 374.80,840.00C375.37,845.87 375.93,852.40 377.00,857.00C378.07,861.60 378.73,864.78 381.20,867.60C383.67,870.42 387.55,872.32 391.80,873.90C396.05,875.48 401.40,875.85 406.70,877.10C412.00,878.35 417.95,879.98 423.60,881.40C429.25,882.82 435.65,884.37 440.60,885.60C445.55,886.83 449.40,888.62 453.30,888.80C457.20,888.98 460.82,888.12 464.00,886.70C467.18,885.28 469.93,882.43 472.40,880.30C474.87,878.17 476.32,876.73 478.80,873.90C481.28,871.07 484.47,867.53 487.30,863.30C490.13,859.07 493.68,852.38 495.80,848.50C497.92,844.62 497.10,846.08 500.00,840.00C502.90,833.92 508.60,820.27 513.20,812.00C517.80,803.73 522.80,796.40 527.60,790.40C532.40,784.40 537.20,780.08 542.00,776.00C546.80,771.92 551.13,768.78 556.40,765.90C561.67,763.02 567.37,760.85 573.60,758.70C579.83,756.55 587.08,754.53 593.80,753.00C600.52,751.47 606.70,750.47 613.90,749.50C621.10,748.53 630.28,747.73 637.00,747.20C643.72,746.67 651.33,746.45 654.20,746.30" stroke="#e81414"/>
<path d="M63.80,677.00L64.30,660.00C64.33,659.17 63.65,657.97 64.50,655.00C65.35,652.03 67.48,645.78 69.40,642.20C71.32,638.62 73.80,636.40 76.00,633.50C78.20,630.60 79.93,628.30 82.60,624.80C85.27,621.30 89.77,615.38 92.00,612.50C94.23,609.62 94.50,609.32 96.00,607.50C97.50,605.68 99.33,603.72 101.00,601.60C102.67,599.48 104.33,596.67 106.00,594.80C107.67,592.93 109.33,592.10 111.00,590.40C112.67,588.70 114.33,586.22 116.00,584.60C117.67,582.98 119.33,582.25 121.00,580.70C122.67,579.15 124.00,577.15 126.00,575.30C128.00,573.45 131.00,571.37 133.00,569.60C135.00,567.83 136.33,566.13 138.00,564.70C139.67,563.27 141.33,562.25 143.00,561.00C144.67,559.75 146.33,558.37 148.00,557.20C149.67,556.03 151.33,555.08 153.00,554.00C154.67,552.92 156.67,551.70 158.00,550.70C159.33,549.70 159.95,548.95 161.00,548.00C162.05,547.05 163.75,545.50 164.30,545.00L165.70,547.00L168.10,770.00C168.23,771.35 168.50,772.72 168.90,778.10C169.30,783.48 169.83,794.23 170.50,802.30C171.17,810.37 171.95,818.97 172.90,826.50C173.85,834.03 174.85,841.03 176.20,847.50C177.55,853.97 179.12,860.18 181.00,865.30C182.88,870.42 185.08,874.70 187.50,878.20C189.92,881.70 192.82,884.27 195.50,886.30C198.18,888.33 200.90,889.87 203.60,890.40C206.30,890.93 208.73,890.18 211.70,889.50C214.67,888.82 218.35,887.50 221.40,886.30C224.45,885.10 226.47,883.95 230.00,882.30C233.53,880.65 238.53,878.85 242.60,876.40C246.67,873.95 250.30,871.37 254.40,867.60C258.50,863.83 265.07,856.10 267.20,853.80L268.20,845.00L270.10,745.00C270.33,741.83 270.93,732.50 271.50,726.00C272.07,719.50 272.27,712.92 273.50,706.00C274.73,699.08 276.65,691.25 278.90,684.50C281.15,677.75 283.87,672.33 287.00,665.50C290.13,658.67 293.67,650.65 297.70,643.50C301.73,636.35 306.25,629.85 311.20,622.60C316.15,615.35 322.45,606.47 327.40,600.00C332.35,593.53 336.42,588.98 340.90,583.80C345.38,578.62 349.55,574.30 354.30,568.90C359.05,563.50 366.88,554.32 369.40,551.40L370.40,554.00L372.20,745.00L372.70,780.00C372.85,782.42 372.98,787.53 373.60,794.50C374.22,801.47 375.48,814.22 376.40,821.80C377.32,829.38 377.95,833.43 379.10,840.00C380.25,846.57 381.18,855.18 383.30,861.20C385.42,867.22 388.62,872.38 391.80,876.10C394.98,879.82 398.50,882.02 402.40,883.50C406.30,884.98 410.60,885.35 415.20,885.00C419.80,884.65 425.05,883.07 430.00,881.40C434.95,879.73 440.30,877.65 444.90,875.00C449.50,872.35 453.72,869.22 457.60,865.50C461.48,861.78 464.70,857.62 468.20,852.70C471.70,847.78 474.47,842.32 478.60,836.00C482.73,829.68 488.20,821.92 493.00,814.80C497.80,807.68 502.60,800.02 507.40,793.30C512.20,786.58 517.00,779.30 521.80,774.50C526.60,769.70 530.92,767.62 536.20,764.50C541.48,761.38 547.27,758.20 553.50,755.80C559.73,753.40 565.93,751.53 573.60,750.10C581.27,748.67 586.07,747.92 599.50,747.20C612.93,746.48 645.08,746.03 654.20,745.80" stroke="#006e00"/>
</g>
<line x1="377" y1="121.30" x2="387.5" y2="121.30" stroke="#2a2a2a" style="stroke-width:1px"/>
<text x="389.0" y="123.9" textLength="72.6" lengthAdjust="spacingAndGlyphs" class="t">White petroleum</text>
<line x1="377" y1="132.00" x2="387.5" y2="132.00" stroke="#2828e0" style="stroke-width:1px"/>
<text x="389.0" y="134.8" textLength="197.7" lengthAdjust="spacingAndGlyphs" class="t">1:10 mineral oil and white petroleum mixture</text>
<line x1="377" y1="143.40" x2="387.5" y2="143.40" stroke="#e82828" style="stroke-width:1px"/>
<text x="389.0" y="146.7" textLength="197.7" lengthAdjust="spacingAndGlyphs" class="t">2:10 mineral oil and white petroleum mixture</text>
<line x1="377" y1="154.50" x2="387.5" y2="154.50" stroke="#28e028" style="stroke-width:1px"/>
<text x="389.0" y="157.9" textLength="197.7" lengthAdjust="spacingAndGlyphs" class="t">3:10 mineral oil and white petroleum mixture</text>
<line x1="377" y1="167.00" x2="387.5" y2="167.00" stroke="#28f0f0" style="stroke-width:1px"/>
<text x="389.0" y="169.7" textLength="197.7" lengthAdjust="spacingAndGlyphs" class="t">4:10 mineral oil and white petroleum mixture</text>
<line x1="377" y1="178.40" x2="387.5" y2="178.40" stroke="#f028f0" style="stroke-width:1px"/>
<text x="389.0" y="181.0" textLength="197.7" lengthAdjust="spacingAndGlyphs" class="t">5:10 mineral oil and white petroleum mixture</text>
<line x1="427" y1="557.5" x2="443.5" y2="557.5" stroke="#e81414" style="stroke-width:2.6px"/>
<text x="445.9" y="560.5" textLength="163.2" lengthAdjust="spacingAndGlyphs" class="t">Chloramphenicol ophthalmic ointment</text>
<line x1="427" y1="569.8" x2="443.5" y2="569.8" stroke="#1478f0" style="stroke-width:2.6px"/>
<text x="445.9" y="572.4" textLength="195.4" lengthAdjust="spacingAndGlyphs" class="t">2:10 mineral oil and white petroleum mixture</text>
<line x1="427" y1="580.9" x2="443.5" y2="580.9" stroke="#006e00" style="stroke-width:2.6px"/>
<text x="445.9" y="584.5" textLength="194.9" lengthAdjust="spacingAndGlyphs" class="t">3:10 mineral oil and white petroleum mixture</text>
</svg>
</body></html>
